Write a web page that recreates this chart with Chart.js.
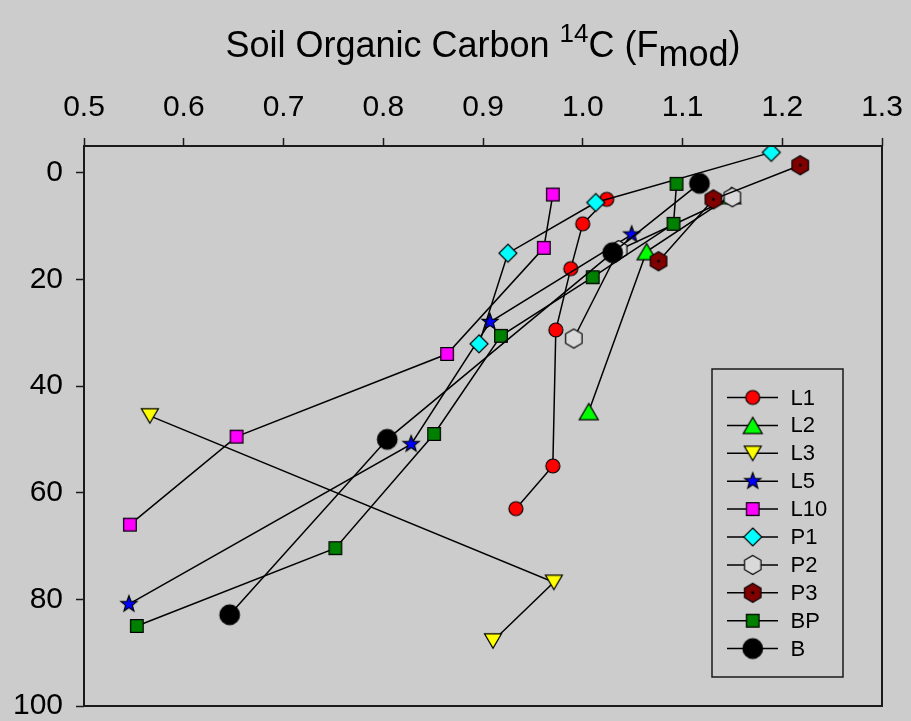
<!DOCTYPE html>
<html>
<head>
<meta charset="utf-8">
<title>Soil Organic Carbon 14C profiles</title>
<script src="https://cdn.jsdelivr.net/npm/chart.js@4.4.1/dist/chart.umd.min.js"></script>
<style>
  html, body { margin: 0; padding: 0; background: #cccccc; }
  #wrap { width: 911px; height: 721px; }
  canvas { display: block; }
</style>
</head>
<body>
<div id="wrap"><canvas id="chart" width="911" height="721"></canvas></div>
<script>
// Axis tick values
const xTicks = [0.5, 0.6, 0.7, 0.8, 0.9, 1.0, 1.1, 1.2, 1.3];
const yTicks = [0, 20, 40, 60, 80, 100];

// Profile names (legend order)
const seriesNames = ['L1', 'L2', 'L3', 'L5', 'L10', 'P1', 'P2', 'P3', 'BP', 'B'];

// Fmod of soil organic carbon vs. depth (cm), one pair of arrays per profile
const l1Fmod   = [1.024, 1.000, 0.988, 0.973, 0.970, 0.933];
const l1Depth  = [5.0, 9.6, 18.0, 29.5, 55.0, 63.0];
const l2Fmod   = [1.149, 1.064, 1.006];
const l2Depth  = [4.3, 14.8, 44.8];
const l3Fmod   = [0.566, 0.971, 0.910];
const l3Depth  = [45.6, 76.8, 87.8];
const l5Fmod   = [1.049, 0.907, 0.828, 0.545];
const l5Depth  = [11.6, 28.0, 50.9, 80.9];
const l10Fmod  = [0.970, 0.961, 0.864, 0.653, 0.546];
const l10Depth = [4.1, 14.1, 34.0, 49.5, 66.0];
const p1Fmod   = [1.189, 1.013, 0.925, 0.896];
const p1Depth  = [-3.8, 5.6, 15.1, 32.1];
const p2Fmod   = [1.150, 1.036, 0.991];
const p2Depth  = [4.6, 14.5, 31.1];
const p3Fmod   = [1.218, 1.131, 1.076];
const p3Depth  = [-1.4, 5.0, 16.6];
const bpFmod   = [1.094, 1.091, 1.010, 0.918, 0.851, 0.752, 0.553];
const bpDepth  = [2.1, 9.6, 19.6, 30.6, 49.0, 70.4, 85.0];
const bFmod    = [1.117, 1.030, 0.804, 0.646];
const bDepth   = [2.0, 15.0, 50.0, 82.9];

const seriesFmod  = [l1Fmod, l2Fmod, l3Fmod, l5Fmod, l10Fmod, p1Fmod, p2Fmod, p3Fmod, bpFmod, bFmod];
const seriesDepth = [l1Depth, l2Depth, l3Depth, l5Depth, l10Depth, p1Depth, p2Depth, p3Depth, bpDepth, bDepth];

// Symbol per profile: shape, size, fill
const symbols = [
  { shape: 'circle',  size: 7,    fill: '#ff0000' },
  { shape: 'triUp',   size: 9.5,  fill: '#00ff00' },
  { shape: 'triDown', size: 8.5,  fill: '#ffff00' },
  { shape: 'star',    size: 8.5,  fill: '#0000ff' },
  { shape: 'square',  size: 6.3,  fill: '#ff00ff' },
  { shape: 'diamond', size: 9,    fill: '#00ffff' },
  { shape: 'hexagon', size: 9.5,  fill: '#d9d9d9' },
  { shape: 'hexDot',  size: 9.5,  fill: '#800000' },
  { shape: 'square',  size: 6.3,  fill: '#008000' },
  { shape: 'circle',  size: 9.8,  fill: '#000000' }
];

function tracePath(ctx, shape, cx, cy, s) {
  ctx.beginPath();
  switch (shape) {
    case 'circle':
      ctx.arc(cx, cy, s, 0, Math.PI * 2);
      break;
    case 'triUp': {
      const w = s * 1.0, h = s * 0.85;
      ctx.moveTo(cx, cy - h); ctx.lineTo(cx + w, cy + h); ctx.lineTo(cx - w, cy + h);
      ctx.closePath();
      break;
    }
    case 'triDown': {
      const w = s * 1.0, h = s * 0.85;
      ctx.moveTo(cx - w, cy - h); ctx.lineTo(cx + w, cy - h); ctx.lineTo(cx, cy + h);
      ctx.closePath();
      break;
    }
    case 'star': {
      const inner = s * 0.42;
      for (let k = 0; k < 10; k++) {
        const r = k % 2 === 0 ? s : inner;
        const a = -Math.PI / 2 + k * Math.PI / 5;
        const px = cx + r * Math.cos(a), py = cy + r * Math.sin(a);
        if (k === 0) ctx.moveTo(px, py); else ctx.lineTo(px, py);
      }
      ctx.closePath();
      break;
    }
    case 'square':
      ctx.rect(cx - s, cy - s, 2 * s, 2 * s);
      break;
    case 'diamond':
      ctx.moveTo(cx, cy - s); ctx.lineTo(cx + s, cy); ctx.lineTo(cx, cy + s); ctx.lineTo(cx - s, cy);
      ctx.closePath();
      break;
    case 'hexagon':
    case 'hexDot':
      for (let k = 0; k < 6; k++) {
        const a = -Math.PI / 2 + k * Math.PI / 3;
        const px = cx + s * Math.cos(a), py = cy + s * Math.sin(a);
        if (k === 0) ctx.moveTo(px, py); else ctx.lineTo(px, py);
      }
      ctx.closePath();
      break;
  }
}

function makeSymbol(sym) {
  const dim = Math.ceil(sym.size) * 2 + 4;
  const c = document.createElement('canvas');
  c.width = dim; c.height = dim;
  const g = c.getContext('2d');
  const m = dim / 2;
  tracePath(g, sym.shape, m, m, sym.size);
  g.fillStyle = sym.fill;
  g.fill();
  g.lineWidth = 1.2;
  g.strokeStyle = '#000000';
  g.stroke();
  if (sym.shape === 'hexDot') {
    g.beginPath();
    g.arc(m, m, 1.4, 0, Math.PI * 2);
    g.fillStyle = '#000000';
    g.fill();
  }
  return c;
}

const symbolImages = symbols.map(makeSymbol);

const datasets = seriesNames.map((name, i) => ({
  label: name,
  data: seriesFmod[i].map((x, j) => ({ x: x, y: seriesDepth[i][j] })),
  showLine: true,
  borderColor: '#000000',
  borderWidth: 1.5,
  tension: 0,
  pointStyle: symbolImages[i],
  pointRadius: symbols[i].size,
  pointHoverRadius: symbols[i].size,
  // later profiles are drawn over earlier ones
  order: seriesNames.length - i
}));

const FONT = "'Liberation Sans', Arial, Helvetica, sans-serif";

// Title with superscript mass number and subscripted "mod"
const titlePlugin = {
  id: 'richTitle',
  afterDraw(chart) {
    const ctx = chart.ctx;
    const a = chart.chartArea;
    const parts = [
      { t: 'Soil Organic Carbon ', size: 36, dy: 0 },
      { t: '14', size: 26, dy: -15 },
      { t: 'C (F', size: 36, dy: 0 },
      { t: 'mod', size: 36, dy: 9 },
      { t: ')', size: 36, dy: 0 }
    ];
    let total = 0;
    parts.forEach(p => { ctx.font = p.size + 'px ' + FONT; p.w = ctx.measureText(p.t).width; total += p.w; });
    let x = (a.left + a.right) / 2 - total / 2;
    const base = 57;
    ctx.save();
    ctx.fillStyle = '#000000';
    ctx.textBaseline = 'alphabetic';
    ctx.textAlign = 'left';
    parts.forEach(p => {
      ctx.font = p.size + 'px ' + FONT;
      ctx.fillText(p.t, x, base + p.dy);
      x += p.w;
    });
    ctx.restore();
  }
};

// Closed frame around the plotting area
const framePlugin = {
  id: 'frame',
  afterDraw(chart) {
    const ctx = chart.ctx;
    const a = chart.chartArea;
    ctx.save();
    ctx.strokeStyle = '#1a1a1a';
    ctx.lineWidth = 2;
    ctx.strokeRect(a.left, a.top, a.right - a.left, a.bottom - a.top);
    ctx.restore();
  }
};

// Boxed legend in the lower right of the plot
const boxLegendPlugin = {
  id: 'boxLegend',
  afterDraw(chart) {
    const ctx = chart.ctx;
    const a = chart.chartArea;
    const boxL = a.right - 170, boxT = a.top + 223, boxW = 131, boxH = 308;
    ctx.save();
    ctx.strokeStyle = '#1a1a1a';
    ctx.lineWidth = 1.5;
    ctx.strokeRect(boxL, boxT, boxW, boxH);
    const rowH = 27.9;
    chart.data.datasets.forEach((ds, i) => {
      const y = boxT + 28.5 + i * rowH;
      ctx.beginPath();
      ctx.moveTo(boxL + 15, y);
      ctx.lineTo(boxL + 66, y);
      ctx.strokeStyle = '#000000';
      ctx.lineWidth = 1.5;
      ctx.stroke();
      const img = symbolImages[i];
      ctx.drawImage(img, boxL + 40.7 - img.width / 2, y - img.height / 2);
      ctx.fillStyle = '#000000';
      ctx.font = '22px ' + FONT;
      ctx.textBaseline = 'middle';
      ctx.textAlign = 'left';
      ctx.fillText(ds.label, boxL + 78.5, y + 1);
    });
    ctx.restore();
  }
};

const bg = {
  id: 'bg',
  beforeDraw(chart) {
    const ctx = chart.ctx;
    ctx.save();
    ctx.fillStyle = '#cccccc';
    ctx.fillRect(0, 0, chart.width, chart.height);
    ctx.restore();
  }
};

new Chart(document.getElementById('chart'), {
  type: 'scatter',
  data: { datasets: datasets },
  options: {
    responsive: false,
    animation: false,
    devicePixelRatio: 1,
    layout: { padding: { left: 0, top: 0, right: 29, bottom: 15 } },
    plugins: {
      legend: { display: false },
      title: { display: false },
      tooltip: { enabled: false }
    },
    scales: {
      x: {
        type: 'linear',
        position: 'top',
        min: 0.5,
        max: 1.3,
        afterBuildTicks(scale) { scale.ticks = xTicks.map(v => ({ value: v })); },
        afterFit(scale) { scale.height = 146; scale.paddingLeft = 0; scale.paddingRight = 0; },
        border: { display: false },
        grid: { drawOnChartArea: false, drawTicks: true, tickLength: 8, tickColor: '#1a1a1a', tickWidth: 1.5 },
        ticks: {
          color: '#000000',
          font: { family: FONT, size: 30 },
          padding: 12,
          maxRotation: 0,
          autoSkip: false,
          callback: v => Number(v).toFixed(1)
        }
      },
      y: {
        type: 'linear',
        position: 'left',
        reverse: true,
        min: -5,
        max: 100,
        afterBuildTicks(scale) { scale.ticks = yTicks.map(v => ({ value: v })); },
        afterFit(scale) { scale.width = 84; scale.paddingTop = 0; scale.paddingBottom = 0; },
        border: { display: false },
        grid: { drawOnChartArea: false, drawTicks: true, tickLength: 8, tickColor: '#1a1a1a', tickWidth: 1.5 },
        ticks: {
          color: '#000000',
          font: { family: FONT, size: 30 },
          padding: 13,
          autoSkip: false,
          callback: v => String(v)
        }
      }
    }
  },
  plugins: [bg, framePlugin, titlePlugin, boxLegendPlugin]
});
</script>
</body>
</html>
